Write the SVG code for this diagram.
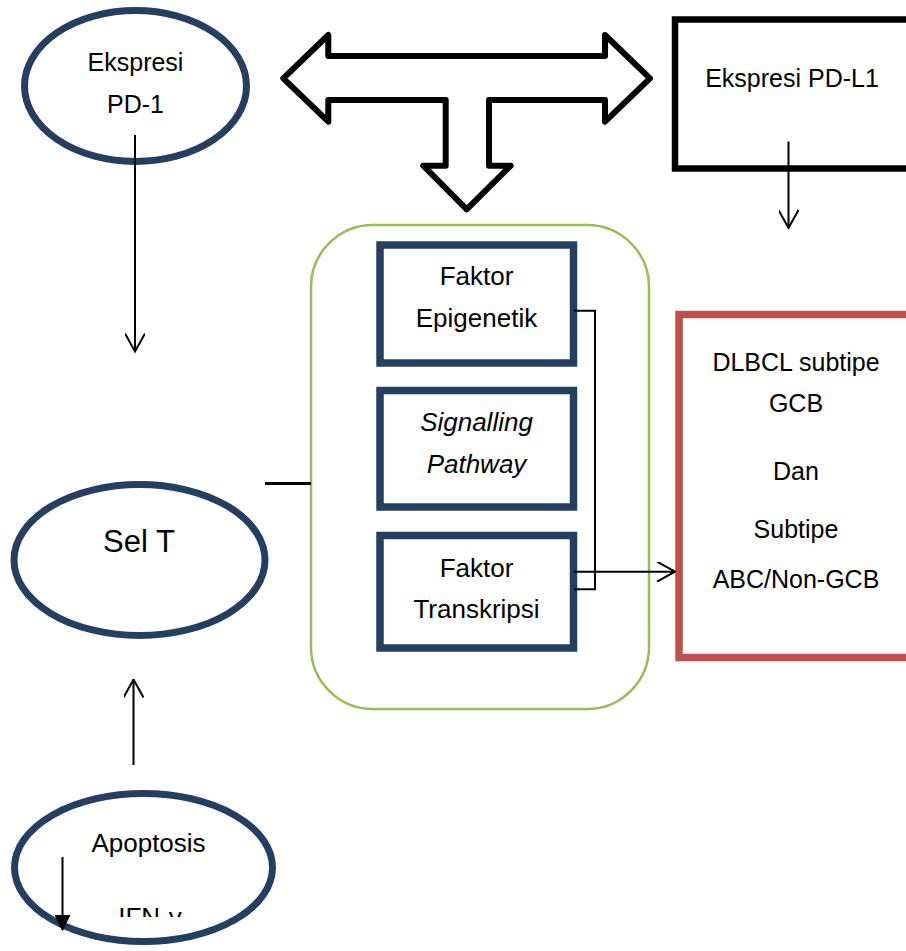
<svg xmlns="http://www.w3.org/2000/svg" width="906" height="951" viewBox="0 0 906 951">
<style>
.t{font-family:"Liberation Sans",Arial,sans-serif;font-size:25px;fill:#000;text-anchor:middle}
.t26{font-size:26px}
.big{font-size:31px}
.it{font-style:italic}
.blue{fill:#fff;stroke:#243F60;stroke-width:7}
.ln{fill:none;stroke:#000;stroke-width:2}
</style>
<defs>
<marker id="vee" viewBox="0 0 20 20" refX="19" refY="10" markerWidth="20" markerHeight="20" markerUnits="userSpaceOnUse" orient="auto">
<path d="M1,0 L19,10 L1,20" fill="none" stroke="#000" stroke-width="2"/>
</marker>
<marker id="tri" viewBox="0 0 16 16" refX="15" refY="8" markerWidth="16" markerHeight="16" markerUnits="userSpaceOnUse" orient="auto">
<path d="M0,0 L16,8 L0,16 Z" fill="#000"/>
</marker>
<clipPath id="ifnclip"><rect x="0" y="880" width="300" height="37"/></clipPath>
</defs>

<g id="ekspresi-pd1">
<ellipse class="blue" cx="135.5" cy="86" rx="111" ry="75.5" stroke-width="6"/>
<text class="t" x="135.5" y="71">Ekspresi</text>
<text class="t" x="135.5" y="113">PD-1</text>
</g>

<g id="ekspresi-pdl1">
<rect x="675" y="19.5" width="260" height="149" fill="#fff" stroke="#000" stroke-width="6.5"/>
<text class="t" x="792" y="87">Ekspresi PD-L1</text>
</g>

<g id="t-arrow">
<path d="M283.3,78.3 L328.3,35 L328.3,56 L605,56 L605,35 L650,78.3 L605,121.7 L605,100 L489,100 L489,165.7 L510.7,165.7 L466.7,209.3 L423.3,165.7 L445.7,165.7 L445.7,100 L328.3,100 L328.3,121.7 Z" fill="#fff" stroke="#000" stroke-width="6" stroke-linejoin="round"/>
</g>

<g id="faktor-group">
<rect x="311" y="225" width="338" height="484" rx="62" ry="62" fill="#fff" stroke="#9BBB59" stroke-width="2.5"/>
</g>

<g id="faktor-epigenetik">
<rect x="380" y="245" width="193.5" height="118" fill="#fff" stroke="#243F60" stroke-width="7.5"/>
<text class="t t26" x="476.5" y="285">Faktor</text>
<text class="t t26" x="476.5" y="327">Epigenetik</text>
</g>

<g id="signalling-pathway">
<rect x="380" y="390.5" width="193.5" height="116.5" fill="#fff" stroke="#243F60" stroke-width="7.5"/>
<text class="t t26 it" x="476.5" y="431">Signalling</text>
<text class="t t26 it" x="476.5" y="473">Pathway</text>
</g>

<g id="faktor-transkripsi">
<rect x="380" y="535.5" width="193.5" height="112.5" fill="#fff" stroke="#243F60" stroke-width="7.5"/>
<text class="t t26" x="476.5" y="576.5">Faktor</text>
<text class="t t26" x="476.5" y="618">Transkripsi</text>
</g>

<g id="dlbcl">
<rect x="679" y="314.5" width="260" height="343" fill="#fff" stroke="#C0504D" stroke-width="7.5"/>
<text class="t" x="796" y="371">DLBCL subtipe</text>
<text class="t" x="796" y="412">GCB</text>
<text class="t" x="796" y="480">Dan</text>
<text class="t" x="796" y="538">Subtipe</text>
<text class="t" x="796" y="588">ABC/Non-GCB</text>
</g>

<g id="sel-t">
<ellipse class="blue" cx="139.5" cy="560" rx="125.5" ry="75.5"/>
<text class="t big" x="139" y="552">Sel T</text>
</g>

<g id="apoptosis">
<ellipse class="blue" cx="143.5" cy="867.5" rx="129" ry="74"/>
<text class="t t26" x="148.5" y="852">Apoptosis</text>
<text class="t t26" x="150" y="926" clip-path="url(#ifnclip)">IFN-γ</text>
</g>

<g id="connectors">
<line class="ln" x1="135" y1="135" x2="135" y2="351.5" marker-end="url(#vee)"/>
<line class="ln" x1="788.5" y1="141.5" x2="788.5" y2="228" marker-end="url(#vee)"/>
<line class="ln" x1="133.5" y1="765" x2="133.5" y2="679.5" marker-end="url(#vee)"/>
<line class="ln" x1="62.5" y1="857" x2="62.5" y2="930" marker-end="url(#tri)"/>
<line x1="265" y1="483.5" x2="311" y2="483.5" stroke="#000" stroke-width="3"/>
<path class="ln" d="M574,310.7 L595,310.7 L595,589.3 L574,589.3"/>
<line class="ln" x1="574" y1="571.7" x2="675" y2="571.7" marker-end="url(#vee)"/>
</g>
</svg>
